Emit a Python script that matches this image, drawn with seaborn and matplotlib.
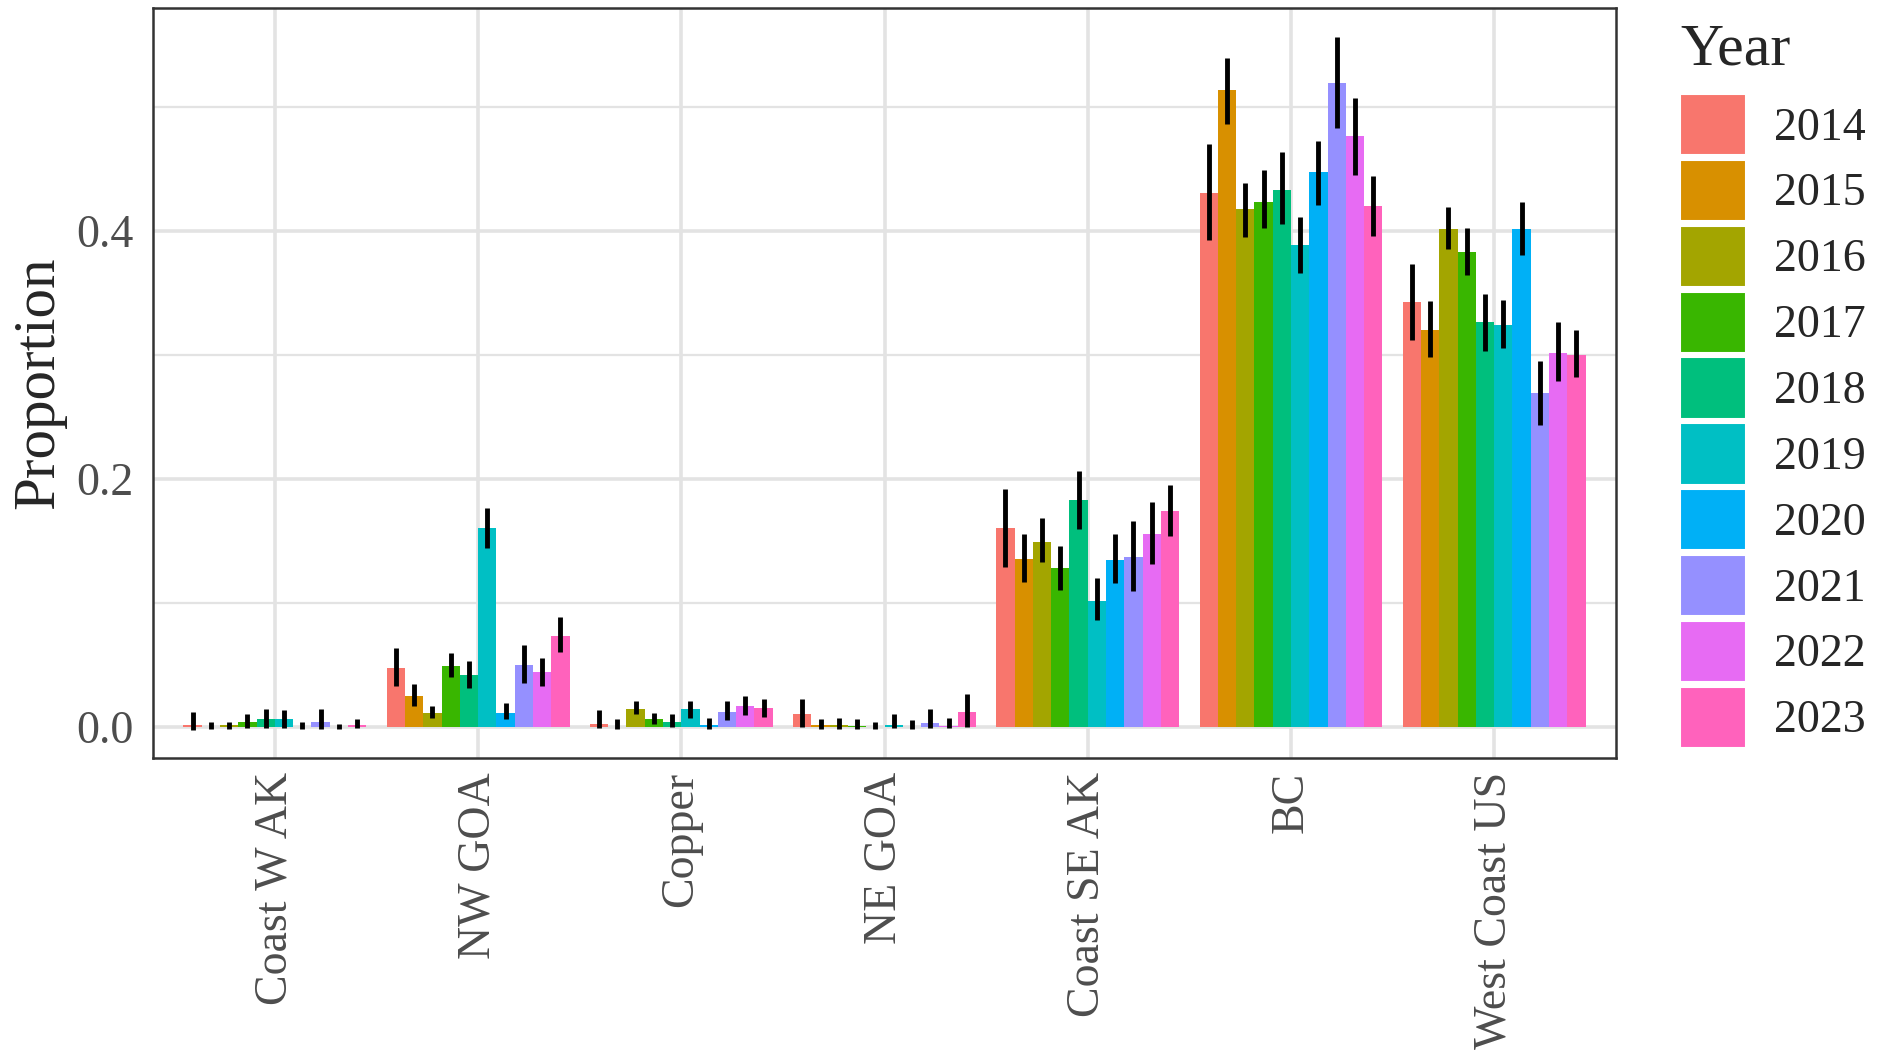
import numpy as np
import pandas as pd
import seaborn as sns
import matplotlib.pyplot as plt
from matplotlib.patches import Patch
from matplotlib.ticker import MultipleLocator

# Data
regions = ['Coast W AK', 'NW GOA', 'Copper', 'NE GOA', 'Coast SE AK', 'BC', 'West Coast US']
years = ['2014', '2015', '2016', '2017', '2018', '2019', '2020', '2021', '2022', '2023']
palette = ['#F8766D', '#D89000', '#A3A500', '#39B600', '#00BF7D',
           '#00BFC4', '#00B0F6', '#9590FF', '#E76BF3', '#FF62BC']

# one row per region, one column per year
proportion = [
    [0.001, 0.000, 0.001, 0.004, 0.006, 0.006, 0.000, 0.004, 0.000, 0.001],   # Coast W AK
    [0.047, 0.025, 0.011, 0.049, 0.042, 0.160, 0.011, 0.050, 0.044, 0.073],   # NW GOA
    [0.002, 0.000, 0.014, 0.006, 0.004, 0.014, 0.001, 0.012, 0.017, 0.015],   # Copper
    [0.010, 0.001, 0.001, 0.0005, 0.000, 0.001, 0.000, 0.003, 0.0005, 0.012], # NE GOA
    [0.160, 0.135, 0.149, 0.128, 0.183, 0.101, 0.134, 0.137, 0.155, 0.174],   # Coast SE AK
    [0.430, 0.513, 0.417, 0.423, 0.433, 0.388, 0.447, 0.519, 0.476, 0.420],   # BC
    [0.342, 0.320, 0.401, 0.383, 0.326, 0.324, 0.401, 0.269, 0.301, 0.300],   # West Coast US
]
lower = [
    [-0.003, -0.002, -0.002, -0.001, -0.001, -0.001, -0.002, -0.002, -0.002, -0.001],
    [0.033, 0.017, 0.007, 0.040, 0.031, 0.144, 0.006, 0.035, 0.033, 0.060],
    [-0.001, -0.002, 0.010, 0.002, 0.000, 0.007, -0.002, 0.005, 0.009, 0.008],
    [0.000, -0.002, -0.002, -0.002, -0.002, -0.001, -0.002, -0.001, -0.001, 0.000],
    [0.129, 0.117, 0.133, 0.110, 0.159, 0.086, 0.116, 0.109, 0.131, 0.154],
    [0.392, 0.486, 0.395, 0.402, 0.405, 0.366, 0.421, 0.483, 0.445, 0.396],
    [0.312, 0.298, 0.385, 0.364, 0.303, 0.305, 0.380, 0.243, 0.279, 0.282],
]
upper = [
    [0.012, 0.004, 0.004, 0.010, 0.014, 0.013, 0.004, 0.014, 0.002, 0.006],
    [0.063, 0.034, 0.017, 0.059, 0.053, 0.176, 0.019, 0.066, 0.055, 0.088],
    [0.013, 0.006, 0.021, 0.011, 0.010, 0.021, 0.007, 0.021, 0.025, 0.022],
    [0.022, 0.006, 0.007, 0.006, 0.004, 0.010, 0.005, 0.014, 0.007, 0.026],
    [0.192, 0.155, 0.168, 0.146, 0.206, 0.120, 0.155, 0.166, 0.181, 0.195],
    [0.470, 0.539, 0.438, 0.449, 0.463, 0.411, 0.472, 0.556, 0.507, 0.444],
    [0.373, 0.343, 0.419, 0.402, 0.349, 0.344, 0.423, 0.295, 0.326, 0.320],
]

rows = []
for i, reg in enumerate(regions):
    for j, yr in enumerate(years):
        rows.append({'Region': reg, 'Year': yr, 'Proportion': proportion[i][j],
                     'lo': lower[i][j], 'hi': upper[i][j]})
df = pd.DataFrame(rows)

sns.set_style('white')
plt.rcParams['font.family'] = ['Liberation Serif', 'DejaVu Serif']

fig = plt.figure(figsize=(18.77, 10.59), dpi=100)
ax = fig.add_axes([0.0815, 0.284, 0.7795, 0.7085])

sns.barplot(data=df, x='Region', y='Proportion', hue='Year', order=regions,
            hue_order=years, palette=palette, width=0.9, errorbar=None,
            saturation=1, linewidth=0, legend=False, ax=ax, zorder=2)

# error bars at the bar centres seaborn produced
for j, cont in enumerate(ax.containers):
    xs = [b.get_x() + b.get_width() / 2 for b in cont]
    sub = df[df['Year'] == years[j]].set_index('Region').loc[regions]
    ax.vlines(xs, sub['lo'], sub['hi'], color='black', linewidth=3.5, zorder=3)

ax.set_xlim(-0.6, 6.6)
ax.set_ylim(-0.0255, 0.5795)
ax.yaxis.set_major_locator(MultipleLocator(0.2))
ax.yaxis.set_minor_locator(MultipleLocator(0.1))
ax.set_yticks([0.0, 0.2, 0.4])
ax.set_yticklabels(['0.0', '0.2', '0.4'])
ax.set_axisbelow(True)
ax.grid(which='major', axis='both', color='#E3E3E3', linewidth=2.6, zorder=0)
ax.grid(which='minor', axis='y', color='#E3E3E3', linewidth=1.6, zorder=0)

for s in ax.spines.values():
    s.set_color('#333333')
    s.set_linewidth(1.8)

ax.tick_params(axis='both', which='major', length=6, width=1.8, color='#333333',
               labelsize=33, labelcolor='#4D4D4D')
ax.tick_params(axis='y', which='major', pad=8)
ax.tick_params(axis='y', which='minor', length=0)
ax.tick_params(axis='x', labelrotation=90, pad=4)
ax.set_xlabel('')
ax.set_ylabel('Proportion', fontsize=42.5, labelpad=7)

handles = [Patch(facecolor=c, edgecolor='white', linewidth=1.5) for c in palette]
leg = fig.legend(handles, years, title='Year', loc='upper left',
                 bbox_to_anchor=(0.895, 0.978), frameon=False, fontsize=33,
                 title_fontsize=43, handlelength=1.45, handleheight=1.68,
                 handletextpad=0.6, labelspacing=0.1, borderpad=0, borderaxespad=0)
leg._legend_box.align = 'left'
leg._legend_box.sep = 12

fig.savefig('out.png', dpi=100)
